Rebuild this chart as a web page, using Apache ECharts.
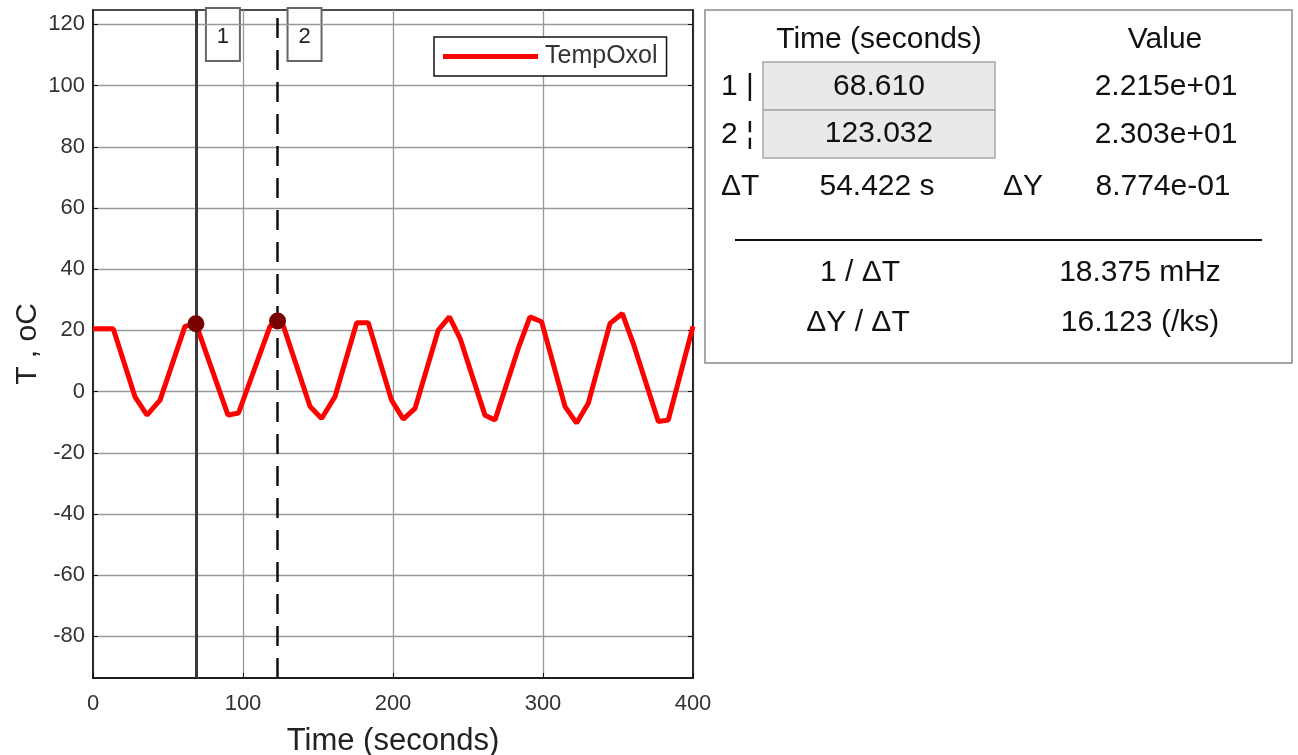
<!DOCTYPE html>
<html>
<head>
<meta charset="utf-8">
<script src="https://cdn.jsdelivr.net/npm/echarts@6/dist/echarts.min.js"></script>
<style>
  html, body { margin: 0; padding: 0; background: #fff; }
  #main { width: 1298px; height: 755px; }
</style>
</head>
<body>
<div id="main"></div>
<script>
// signal (seconds / oC)
var timeSec  = [0, 13.5, 28, 36, 44.7, 61.3, 68.61, 90, 97, 118, 123.032, 127, 144.7, 152.4, 161.3, 175.8, 183.5, 199, 206.9, 214.7, 230.2, 237.6, 244.7, 261.3, 268, 283.5, 291.3, 299.1, 314.7, 322.4, 330.2, 344.7, 352.9, 360.2, 376.9, 383.5, 400];
var tempOxol = [20.5, 20.5, -1.7, -7.7, -2.8, 21.3, 22.15, -7.7, -7, 21.3, 23.03, 21.3, -4.9, -8.8, -1.7, 22.5, 22.5, -2.8, -9, -5.5, 20.1, 24.4, 17.4, -7.7, -9.3, 14.1, 24.4, 22.8, -4.9, -10.3, -3.8, 22.3, 25.5, 15.7, -9.8, -9.3, 21.3];

// cursors
var cursorNames  = ['1', '2'];
var cursorTimes  = [68.610, 123.032];
var cursorValues = [22.15, 23.03];

// axes
var yTicks = [-80, -60, -40, -20, 0, 20, 40, 60, 80, 100, 120];
var yMin = -93.6, yMax = 124.7;
var xMin = 0, xMax = 400, xStep = 100;

// readout panel text
var panelHead   = ['Time (seconds)', 'Value'];
var panelTimes  = ['68.610', '123.032'];
var panelValues = ['2.215e+01', '2.303e+01'];
var panelRowTags = ['1 |', '2 \u00a6'];
var deltaT = '54.422 s', deltaY = '8.774e-01';
var invDeltaT = '18.375 mHz', slopeText = '16.123 (/ks)';

var FONT = '"Liberation Sans", Arial, sans-serif';

function txt(x, y, s, align, size) {
  return {
    type: 'text', x: x, y: y, z: 10,
    style: { text: s, align: align || 'center', verticalAlign: 'middle', fontSize: size || 30, fontFamily: FONT, fill: '#111' }
  };
}

var panel = [
  { type: 'rect', shape: { x: 705, y: 10, width: 587, height: 353 }, style: { fill: '#fff', stroke: '#8a8a8a', lineWidth: 1.5 }, z: 5 },
  txt(879, 40, panelHead[0]),
  txt(1165, 40, panelHead[1]),
  { type: 'rect', shape: { x: 763, y: 62, width: 232, height: 48 }, style: { fill: '#e9e9e9', stroke: '#a8a8a8', lineWidth: 1.5 }, z: 6 },
  { type: 'rect', shape: { x: 763, y: 110, width: 232, height: 48 }, style: { fill: '#e9e9e9', stroke: '#a8a8a8', lineWidth: 1.5 }, z: 6 },
  txt(721, 87, panelRowTags[0], 'left'),
  txt(721, 135, panelRowTags[1], 'left'),
  txt(879, 87, panelTimes[0]),
  txt(879, 134, panelTimes[1]),
  txt(1166, 87, panelValues[0]),
  txt(1166, 135, panelValues[1]),
  txt(721, 187, '\u0394T', 'left'),
  txt(877, 187, deltaT),
  txt(1003, 187, '\u0394Y', 'left'),
  txt(1163, 187, deltaY),
  { type: 'line', shape: { x1: 735, y1: 240, x2: 1262, y2: 240 }, style: { stroke: '#111', lineWidth: 2 }, z: 6 },
  txt(860, 273, '1 / \u0394T'),
  txt(1140, 273, invDeltaT),
  txt(858, 323, '\u0394Y / \u0394T'),
  txt(1140, 323, slopeText)
];

var myChart = echarts.init(document.getElementById('main'));

var option = {
  animation: false,
  backgroundColor: '#fff',
  textStyle: { fontFamily: FONT },
  grid: { left: 93, top: 10, width: 600, height: 668, outerBoundsMode: 'none', containLabel: false, show: true, borderColor: '#111', borderWidth: 1.5, backgroundColor: '#fff' },
  legend: {
    data: ['TempOxol'],
    left: 434, top: 37,
    orient: 'horizontal',
    icon: 'rect',
    itemWidth: 95, itemHeight: 5,
    padding: [7, 9, 7, 9],
    borderColor: '#111', borderWidth: 1.5,
    backgroundColor: '#fff',
    textStyle: { fontSize: 25, color: '#333', fontFamily: FONT, padding: [0, 0, 0, 2] }
  },
  xAxis: {
    type: 'value', min: xMin, max: xMax, interval: xStep,
    name: 'Time (seconds)', nameLocation: 'middle', nameGap: 48,
    nameTextStyle: { fontSize: 31, color: '#222', fontFamily: FONT },
    axisLine: { show: true, onZero: false, lineStyle: { color: '#111', width: 1.5 } },
    axisTick: { show: true, inside: true, length: 5, lineStyle: { color: '#111' } },
    axisLabel: { fontSize: 22, color: '#333', margin: 15, fontFamily: FONT },
    splitLine: { show: true, lineStyle: { color: '#999', width: 1.3 } }
  },
  yAxis: [{
    type: 'value', min: yMin, max: yMax,
    name: 'T , oC', nameLocation: 'middle', nameGap: 50,
    nameTextStyle: { fontSize: 30, color: '#222', fontFamily: FONT },
    axisLine: { show: true, onZero: false, lineStyle: { color: '#111', width: 1.5 } },
    axisTick: { show: true, inside: true, length: 5, customValues: yTicks, lineStyle: { color: '#111' } },
    axisLabel: { fontSize: 22, color: '#333', margin: 8, customValues: yTicks, fontFamily: FONT },
    splitLine: { show: true, lineStyle: { color: '#999', width: 1.3 } }
  }, {
    type: 'value', min: yMin, max: yMax, position: 'right',
    axisLine: { show: true, onZero: false, lineStyle: { color: '#111', width: 1.5 } },
    axisTick: { show: true, inside: true, length: 5, customValues: yTicks, lineStyle: { color: '#111' } },
    axisLabel: { show: false },
    splitLine: { show: false }
  }],
  series: [{
    name: 'TempOxol',
    type: 'line',
    data: timeSec.map(function (t, i) { return [t, tempOxol[i]]; }),
    showSymbol: false,
    symbol: 'none',
    color: '#ff0000',
    lineStyle: { color: '#ff0000', width: 5 },
    z: 3,
    markLine: {
      silent: true,
      symbol: 'none',
      label: { show: false },
      data: [
        { xAxis: cursorTimes[0], lineStyle: { type: 'solid', width: 3, color: '#3a3a3a' } },
        { xAxis: cursorTimes[1], lineStyle: { type: [20, 12], width: 2.5, color: '#111' } }
      ]
    }
  }, {
    name: 'cursors',
    type: 'scatter',
    data: cursorTimes.map(function (t, i) { return [t, cursorValues[i]]; }),
    symbol: 'circle',
    symbolSize: 17,
    itemStyle: { color: '#7a0000', opacity: 1 },
    z: 5
  }],
  graphic: panel
};

myChart.setOption(option);

// little numbered boxes hanging from each cursor
var boxes = cursorTimes.map(function (t, i) {
  var px = myChart.convertToPixel({ xAxisIndex: 0 }, t);
  return {
    type: 'group', z: 8,
    children: [
      { type: 'rect', shape: { x: px + 10, y: 8, width: 34, height: 53 }, style: { fill: '#fff', stroke: '#666', lineWidth: 2 } },
      { type: 'text', x: px + 27, y: 37, style: { text: cursorNames[i], align: 'center', verticalAlign: 'middle', fontSize: 22, fontFamily: FONT, fill: '#222' } }
    ]
  };
});
myChart.setOption({ graphic: panel.concat(boxes) });
</script>
</body>
</html>
